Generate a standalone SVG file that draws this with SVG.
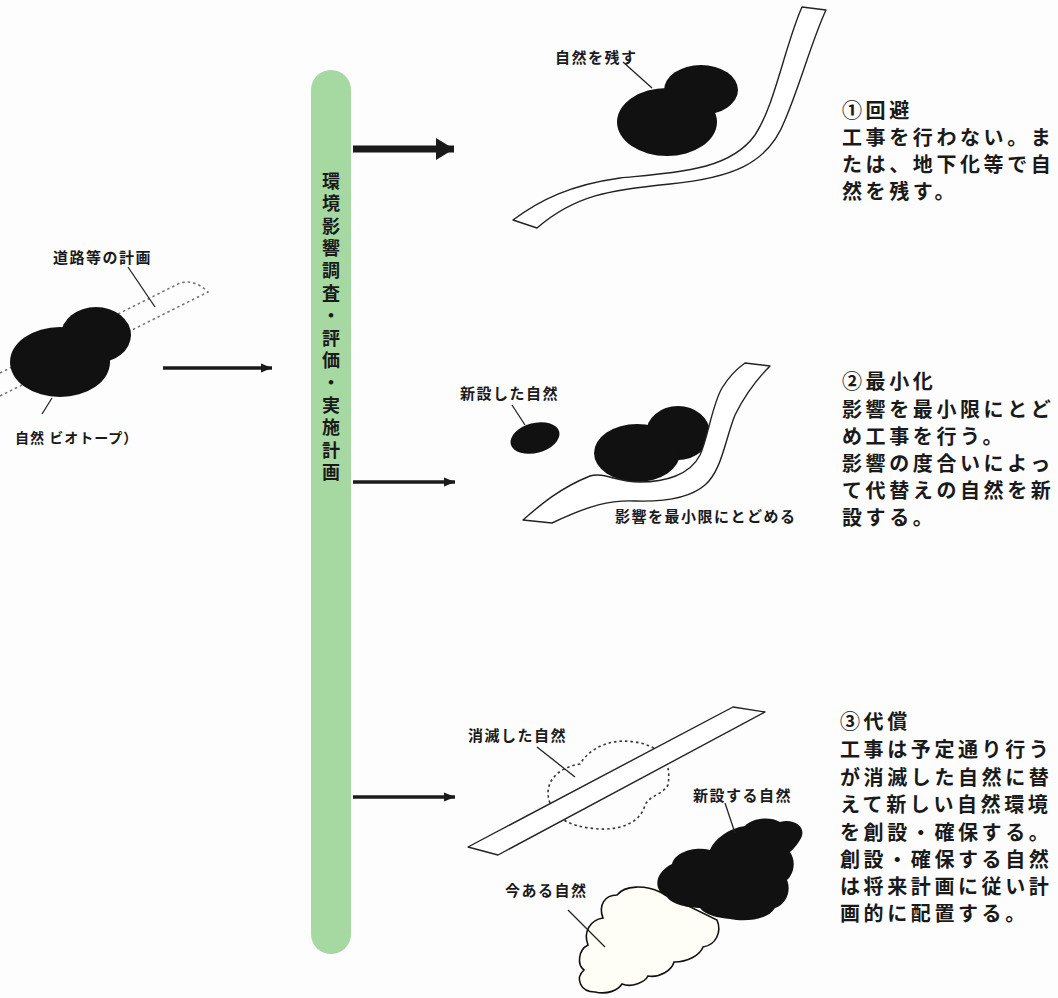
<svg xmlns="http://www.w3.org/2000/svg" width="1058" height="998" viewBox="0 0 1058 998">
  <style>
    .lbl { font-family: "Noto Sans CJK JP", "Noto Sans CJK SC", sans-serif; font-weight: 700; font-size: 15px; letter-spacing: 1.5px; fill: #1a1a1a; }
    .body { font-family: "Noto Sans CJK JP", "Noto Sans CJK SC", sans-serif; font-weight: 700; font-size: 20px; letter-spacing: 3.6px; fill: #1a1a1a; }
    .vert { font-family: "Noto Sans CJK JP", "Noto Sans CJK SC", sans-serif; font-weight: 700; font-size: 18px; letter-spacing: 4.4px; fill: #1a1a1a; writing-mode: vertical-rl; }
    .leader { stroke: #222; stroke-width: 1.3; fill: none; }
    .blob { fill: #111; }
    .road { fill: #fff; stroke: #222; stroke-width: 1.4; stroke-linejoin: round; }
    .dotted { fill: none; stroke: #777; stroke-width: 1.6; stroke-dasharray: 2.5 3; }
    .arrow-thin { stroke: #1a1a1a; stroke-width: 3.5; fill: none; }
    .arrow-thick { stroke: #1a1a1a; stroke-width: 7; fill: none; }
  </style>
  <defs>
    <marker id="headThin" markerUnits="userSpaceOnUse" markerWidth="12" markerHeight="12" refX="11" refY="6" orient="auto">
      <path d="M0,1.5 L11,6 L0,10.5 Z" fill="#1a1a1a"/>
    </marker>
    <marker id="headThick" markerUnits="userSpaceOnUse" markerWidth="20" markerHeight="22" refX="18" refY="11" orient="auto">
      <path d="M0,0 L18,11 L0,22 Z" fill="#1a1a1a"/>
    </marker>
  </defs>

  <rect width="1058" height="998" fill="#fdfdfd"/>

  <!-- vertical process bar -->
  <g id="process-bar">
    <rect x="311" y="70" width="40" height="884" rx="20" ry="20" fill="#a6d8a1"/>
    <text class="vert" x="331" y="172">環境影響調査・評価・実施計画</text>
  </g>

  <!-- current state: planned road over a biotope -->
  <g id="current-plan">
    <path class="dotted" d="M0,373 L180,283 C190,280 200,284 208,292 L0,396"/>
    <ellipse class="blob" cx="96" cy="335" rx="35" ry="28"/>
    <ellipse class="blob" cx="60" cy="362" rx="50" ry="35"/>
    <line class="leader" x1="128" y1="267" x2="155" y2="307"/>
    <line class="leader" x1="52" y1="398" x2="42" y2="414"/>
    <text class="lbl" x="53" y="263">道路等の計画</text>
    <text class="lbl" x="15" y="443" style="font-size:14px;letter-spacing:1px">自然 ビオトープ）</text>
  </g>

  <!-- connectors -->
  <g id="connectors">
    <line class="arrow-thin" x1="163" y1="368" x2="272" y2="368" marker-end="url(#headThin)"/>
    <line class="arrow-thick" x1="353" y1="149" x2="454" y2="149" marker-end="url(#headThick)"/>
    <line class="arrow-thin" x1="353" y1="482" x2="455" y2="482" marker-end="url(#headThin)"/>
    <line class="arrow-thin" x1="353" y1="797" x2="455" y2="797" marker-end="url(#headThin)"/>
  </g>

  <!-- option 1: avoidance -->
  <g id="option-avoid">
    <path class="road" d="M513,220 C540,200 570,185 620,178 C680,172 730,170 755,135 C775,105 785,45 802,7 L826,10 C812,40 800,85 785,120 C768,165 730,178 670,184 C610,190 575,195 537,228 Z"/>
    <ellipse class="blob" cx="701" cy="90" rx="37" ry="25"/>
    <ellipse class="blob" cx="667" cy="122" rx="50" ry="34"/>
    <line class="leader" x1="623" y1="62" x2="652" y2="88"/>
    <text class="lbl" x="555" y="63">自然を残す</text>
  </g>

  <!-- option 2: minimisation -->
  <g id="option-minimize">
    <ellipse class="blob" cx="678" cy="433" rx="32" ry="27"/>
    <ellipse class="blob" cx="637" cy="453" rx="43" ry="29"/>
    <path class="road" d="M523,520 C540,505 560,488 590,476 C605,472 615,482 640,482 C665,482 690,475 700,455 C708,438 712,405 722,388 C730,375 738,368 745,363 L770,366 C758,378 745,395 735,415 C725,440 722,470 705,485 C690,498 665,502 635,501 C610,500 590,505 552,523 Z"/>
    <ellipse class="blob" cx="535" cy="438" rx="25" ry="15" transform="rotate(-15 535 438)"/>
    <line class="leader" x1="512" y1="405" x2="525" y2="425"/>
    <text class="lbl" x="460" y="399">新設した自然</text>
    <text class="lbl" x="615" y="522">影響を最小限にとどめる</text>
  </g>

  <!-- option 3: compensation -->
  <g id="option-compensate">
    <path class="dotted" style="stroke:#333" d="M550,803 C543,785 555,768 580,764 C590,748 610,738 635,742 C660,746 672,760 668,785 C662,795 650,795 645,805 C640,825 615,832 590,828 C570,826 556,818 550,803 Z"/>
    <path class="road" d="M468,847 L733,707 L765,712 L498,855 Z"/>
    <path fill="#fffef6" stroke="#111" stroke-width="1.6" d="M660,892 C645,885 625,885 617,895 C605,895 598,905 603,918 C590,920 583,932 588,945 C578,950 577,965 584,970 C575,978 580,992 595,992 C608,995 618,990 622,984 C632,988 645,982 648,976 C660,978 672,970 674,962 C688,962 700,955 703,947 C716,945 722,932 717,920 Z"/>
    <path class="blob" d="M667,897 C652,890 655,872 672,864 C675,852 695,846 710,850 C715,838 730,828 745,826 C752,818 770,816 780,822 C795,818 808,828 800,840 C795,848 792,850 790,852 C797,862 793,875 787,880 C792,892 785,905 775,908 C768,920 745,922 730,919 C718,918 705,915 700,908 C690,908 672,905 667,897 Z"/>
    <line class="leader" x1="537" y1="747" x2="575" y2="777"/>
    <line class="leader" x1="725" y1="803" x2="735" y2="833"/>
    <line class="leader" x1="568" y1="910" x2="605" y2="947"/>
    <text class="lbl" x="468" y="741">消滅した自然</text>
    <text class="lbl" x="693" y="801">新設する自然</text>
    <text class="lbl" x="505" y="896">今ある自然</text>
  </g>

  <!-- explanatory notes -->
  <g id="note-avoid">
    <text class="body">
      <tspan x="842" y="118">①回避</tspan>
      <tspan x="842" y="145">工事を行わない。ま</tspan>
      <tspan x="842" y="172">たは、地下化等で自</tspan>
      <tspan x="842" y="199">然を残す。</tspan>
    </text>
  </g>
  <g id="note-minimize">
    <text class="body">
      <tspan x="842" y="389">②最小化</tspan>
      <tspan x="842" y="417">影響を最小限にとど</tspan>
      <tspan x="842" y="444">め工事を行う。</tspan>
      <tspan x="842" y="471">影響の度合いによっ</tspan>
      <tspan x="842" y="498">て代替えの自然を新</tspan>
      <tspan x="842" y="525">設する。</tspan>
    </text>
  </g>
  <g id="note-compensate">
    <text class="body">
      <tspan x="840" y="729">③代償</tspan>
      <tspan x="840" y="757">工事は予定通り行う</tspan>
      <tspan x="840" y="785">が消滅した自然に替</tspan>
      <tspan x="840" y="812">えて新しい自然環境</tspan>
      <tspan x="840" y="840">を創設・確保する。</tspan>
      <tspan x="840" y="867">創設・確保する自然</tspan>
      <tspan x="840" y="894">は将来計画に従い計</tspan>
      <tspan x="840" y="921">画的に配置する。</tspan>
    </text>
  </g>
</svg>
